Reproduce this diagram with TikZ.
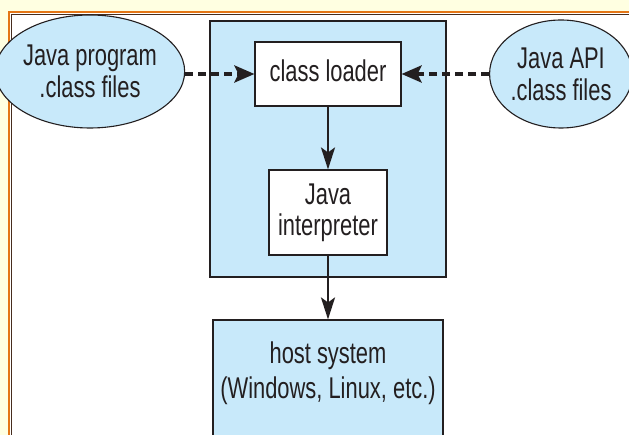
\documentclass[tikz,border=0pt]{standalone}
\usepackage{fontspec}
\setmainfont{Liberation Sans}[FakeStretch=0.73]
\usetikzlibrary{arrows.meta,shapes.geometric}
\definecolor{bgyellow}{RGB}{255,255,225}
\definecolor{frameorange}{RGB}{228,118,22}
\definecolor{framedark}{RGB}{70,45,30}
\definecolor{boxblue}{RGB}{200,233,250}
\definecolor{ink}{RGB}{35,31,32}
\tikzset{
  box/.style={draw=ink, line width=1.1pt, rectangle, inner sep=0pt, align=center, text=ink,
              font=\fontsize{30}{31}\selectfont},
  bluebox/.style={box, fill=boxblue},
  whitebox/.style={box, fill=white},
  oval/.style={draw=ink, line width=1.1pt, ellipse, fill=boxblue, inner sep=0pt, align=center,
               text=ink, font=\fontsize{30}{32}\selectfont},
  plainlabel/.style={inner sep=0pt, align=center, text=ink, font=\fontsize{30}{35}\selectfont},
  dasharrow/.style={draw=ink, line width=3.8pt, dash pattern=on 8pt off 5pt,
                    -{Stealth[length=20pt,width=17pt,inset=4pt]}},
  solidarrow/.style={draw=ink, line width=2.4pt,
                    -{Stealth[length=22pt,width=14pt,inset=5pt]}}
}
\begin{document}
\begin{tikzpicture}[x=1pt,y=-1pt]
\clip (0,0) rectangle (629,435);
\fill[bgyellow] (0,0) rectangle (629,435);
\fill[white] (10,13) rectangle (629,435);
\draw[frameorange, line width=2.4pt] (9,436) -- (9,12) -- (630,12);
\draw[framedark, line width=1.3pt] (11.8,436) -- (11.8,14.6) -- (630,14.6);

\node[bluebox, minimum width=236pt, minimum height=256pt] (jvm) at (328,149) {};
\node[whitebox, minimum width=146pt, minimum height=64pt, text depth=7.5pt] (cl) at (328,74) {class loader};
\node[whitebox, minimum width=118pt, minimum height=85pt] (ji) at (328,212.5) {Java\\interpreter};
\node[bluebox, minimum width=230pt, minimum height=125pt] (host) at (328,382.5) {};
\node[plainlabel] (hostlabel) at (328,373.5) {host system\\(Windows, Linux, etc.)};

\node[oval, minimum width=154pt, minimum height=113pt] (jp) at (90,71.5) {Java program\\.class files};
\node[oval, minimum width=142pt, minimum height=108pt] (api) at (561,74) {Java API\\.class files};

\draw[dasharrow] (jp.east |- cl.west) -- (cl.west);
\draw[dasharrow] (api.west |- cl.east) -- (cl.east);
\draw[solidarrow] (cl.south) -- (ji.north);
\draw[solidarrow] (ji.south) -- (host.north);
\end{tikzpicture}
\end{document}
